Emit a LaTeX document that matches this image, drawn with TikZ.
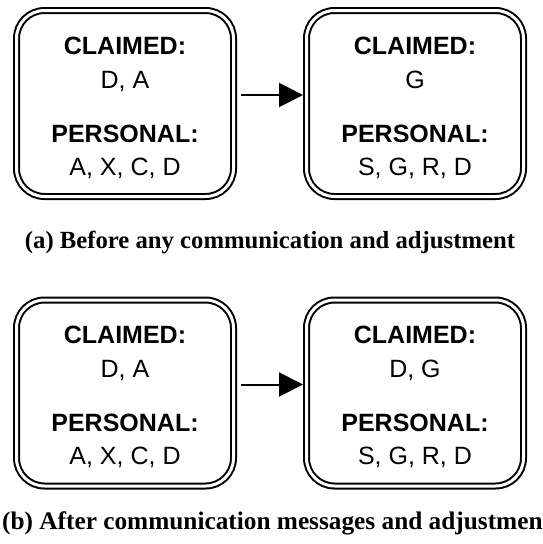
\documentclass[tikz,border=0pt]{standalone}
\usepackage{fontspec}
\setmainfont{Liberation Serif}
\newfontfamily\arialfont{Liberation Sans}
\usetikzlibrary{arrows.meta}
\begin{document}
\begin{tikzpicture}[x=1pt,y=-1pt,
  agent/.style={draw, double, line width=2pt, double distance=3pt, rounded corners=28pt,
    minimum width=217pt, minimum height=186pt, inner sep=0pt, outer sep=0pt},
  info/.style={anchor=north, align=center, inner sep=0pt,
    font=\arialfont\fontsize{25}{33.5}\selectfont},
  capt/.style={font=\bfseries\fontsize{24.7}{30}\selectfont, inner sep=0pt, anchor=base},
  flow/.style={line width=2pt, -{Triangle[length=24pt,width=24pt]},
    shorten <=7.5pt, shorten >=3.5pt}]
\useasboundingbox (0,0) rectangle (542,544);
% top row
\node[agent] (a1) at (125,103.5) {};
\node[agent] (b1) at (415,103.5) {};
\node[info] (ta1) at (125,37) {\textbf{CLAIMED:}\\D, A\\[20.5pt]\textbf{PERSONAL:}\\A, X, C, D};
\node[info] (tb1) at (415,37) {\textbf{CLAIMED:}\\G\\[20.5pt]\textbf{PERSONAL:}\\S, G, R, D};
\draw[flow] ([yshift=8.5pt]a1.east) -- ([yshift=8.5pt]b1.west);
\node[capt] (capa) at (270,248) {(a) Before any communication and adjustment};
% bottom row
\node[agent] (a2) at (125,393) {};
\node[agent] (b2) at (415,393) {};
\node[info] (ta2) at (125,326) {\textbf{CLAIMED:}\\D, A\\[20.5pt]\textbf{PERSONAL:}\\A, X, C, D};
\node[info] (tb2) at (415,326) {\textbf{CLAIMED:}\\D, G\\[20.5pt]\textbf{PERSONAL:}\\S, G, R, D};
\draw[flow] ([yshift=8.5pt]a2.east) -- ([yshift=8.5pt]b2.west);
\node[capt, anchor=base west, font=\bfseries\fontsize{25.3}{30}\selectfont] (capb) at (2,529) {(b) After communication messages and adjustment};
\end{tikzpicture}
\end{document}
